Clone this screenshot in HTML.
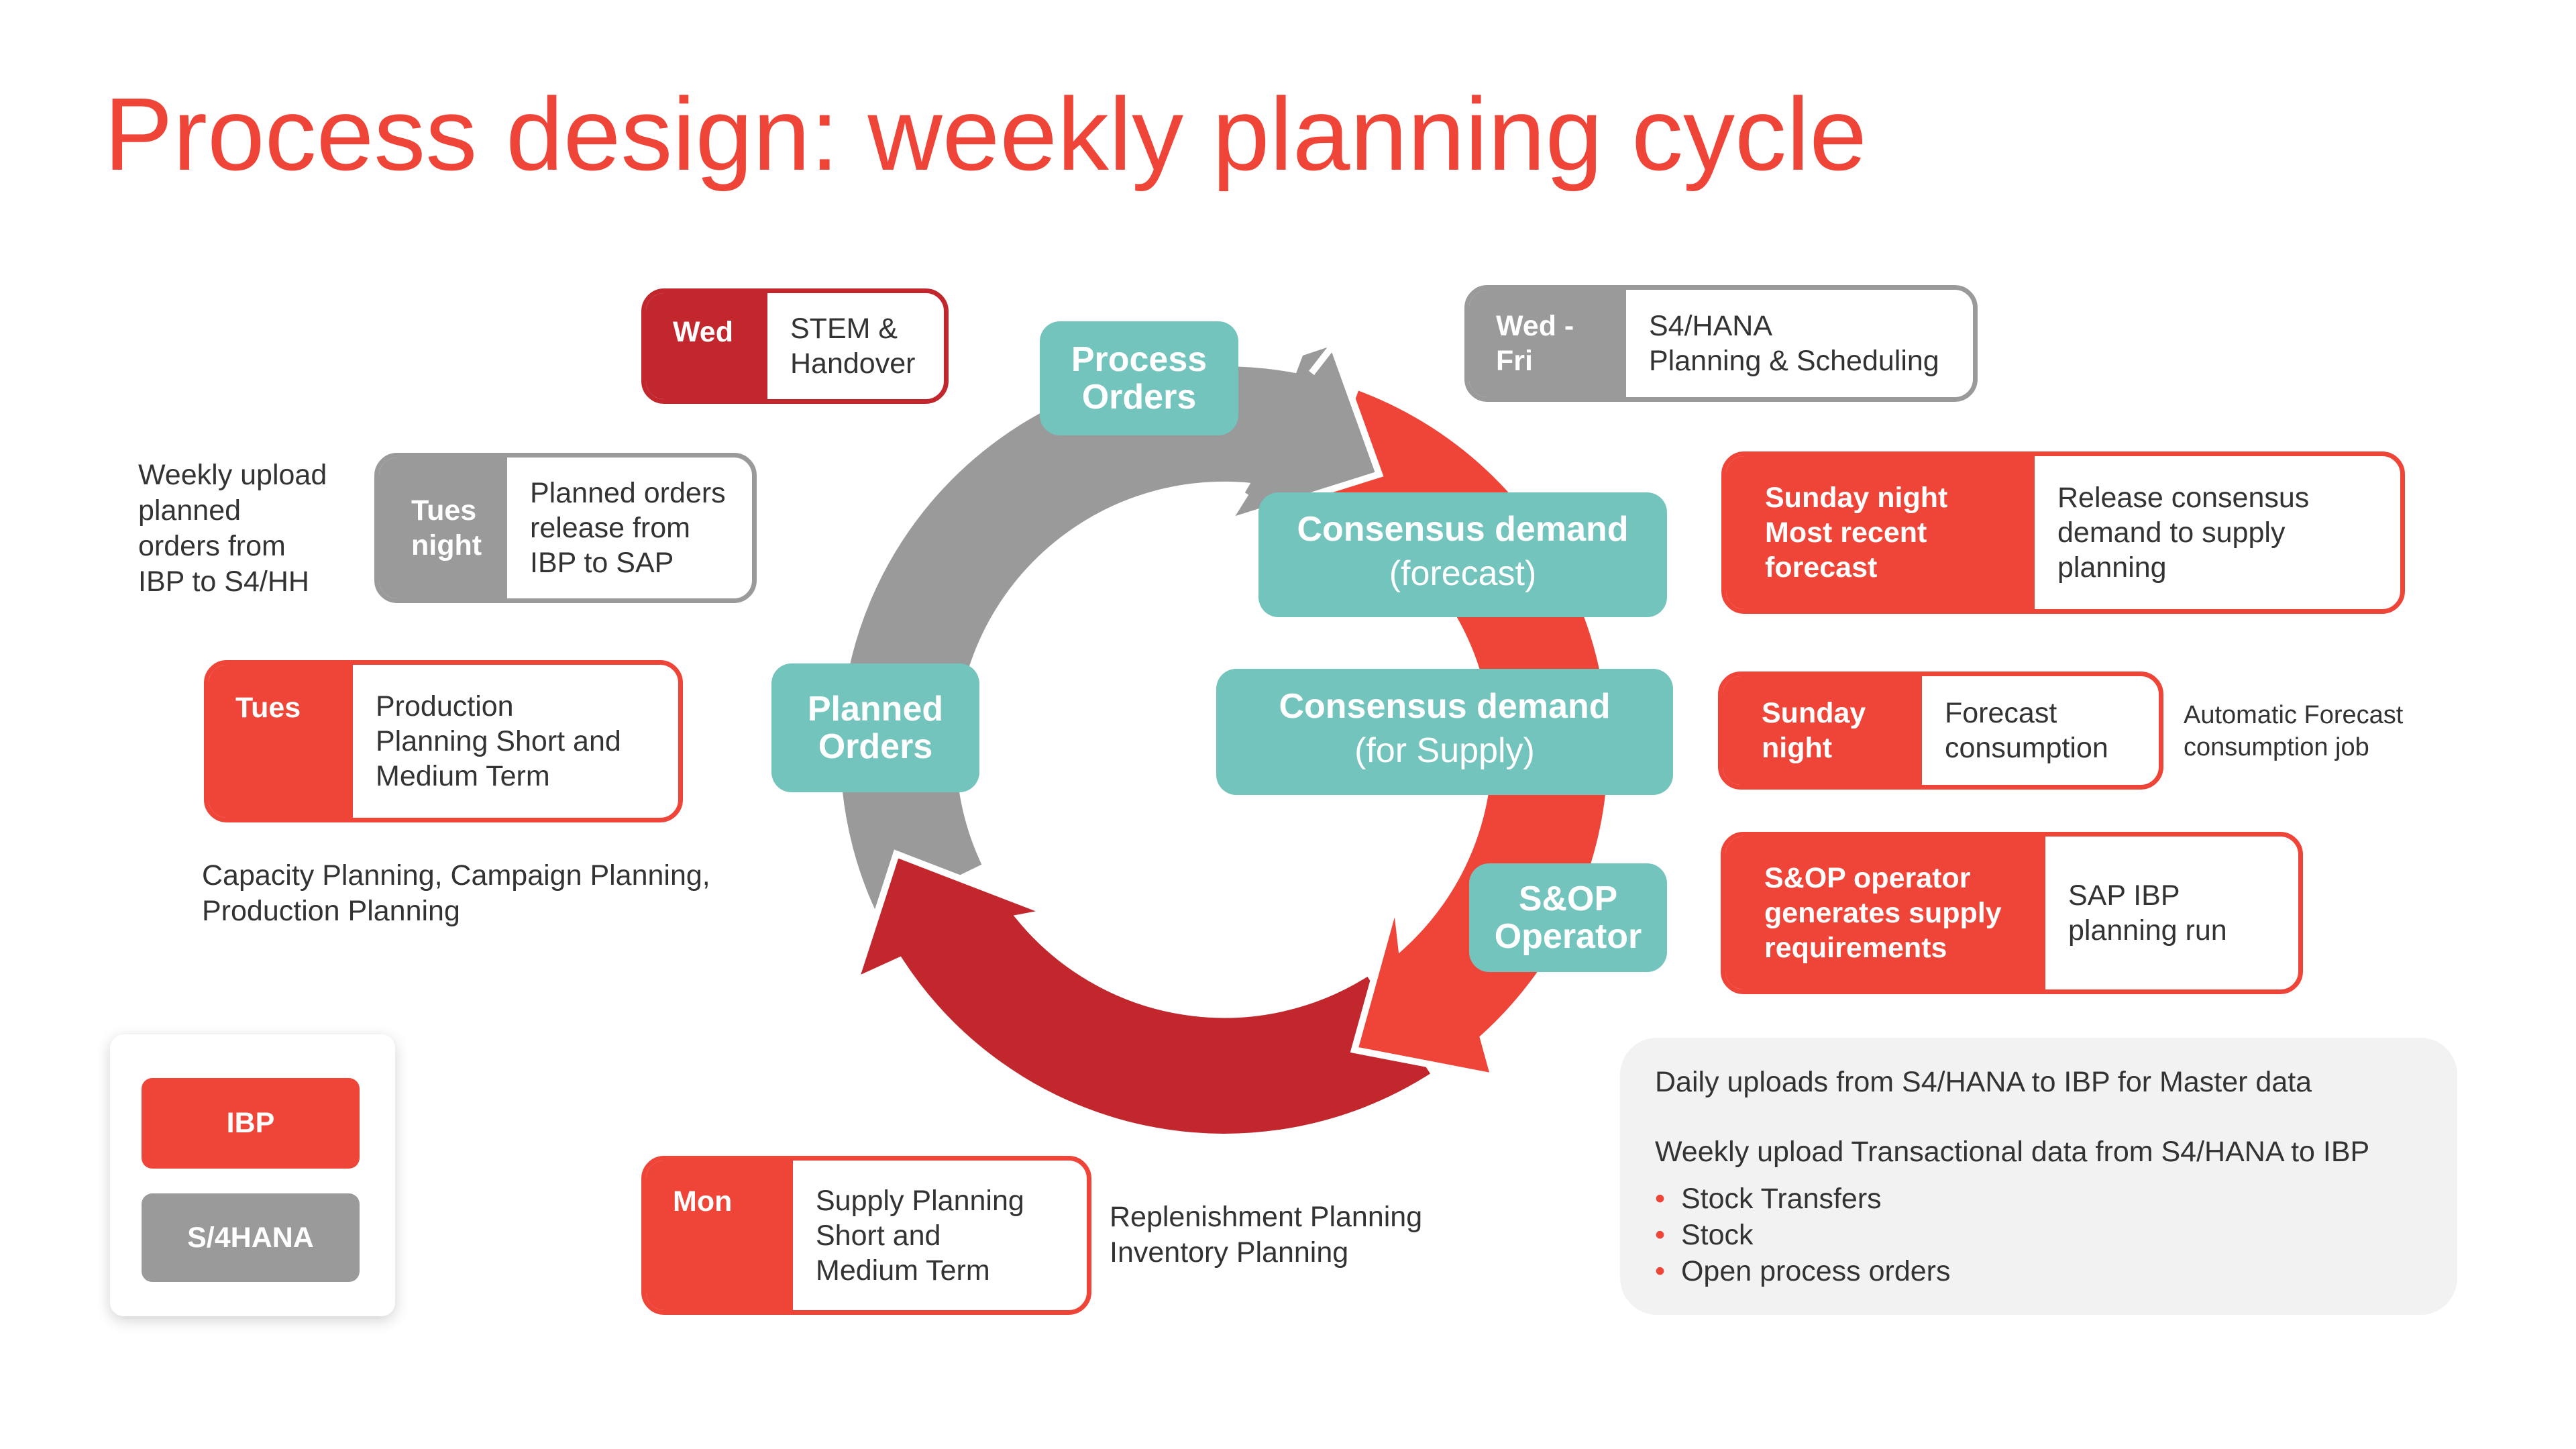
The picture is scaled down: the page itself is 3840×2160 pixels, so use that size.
<!DOCTYPE html>
<html><head><meta charset="utf-8"><style>
body{margin:0;width:3840px;height:2160px;background:#fff;position:relative;overflow:hidden;font-family:"Liberation Sans",sans-serif;color:#333}
.a{position:absolute}
.box{position:absolute;box-sizing:border-box;border:7px solid #ef4438;border-radius:34px;overflow:hidden;display:flex;background:#fff}
.box .l{height:100%;box-sizing:border-box;color:#fff;font-weight:bold;font-size:43px;line-height:52px;padding:0 0 0 40px;display:flex;flex-direction:column}
.box .r{flex:1;display:flex;align-items:center;padding-left:34px;font-size:43px;line-height:52px;color:#333}
.red{border-color:#ef4438}.red .l{background:#ef4438}
.dk{border-color:#c1272d}.dk .l{background:#c1272d}
.gr{border-color:#9a9a9a}.gr .l{background:#9a9a9a}
.c{justify-content:center}
.teal{position:absolute;background:#72c4bc;border-radius:30px;color:#fff;font-weight:bold;font-size:52px;line-height:56px;text-align:center;display:flex;flex-direction:column;justify-content:center}
.teal .n{font-weight:normal;line-height:76px}
.txt{position:absolute;font-size:43px;line-height:53px;color:#333}
</style></head><body>
<div class="a" style="left:155px;top:112px;font-size:154px;color:#ef4438;white-space:nowrap">Process design: weekly planning cycle</div>

<svg class="a" style="left:0;top:0" width="3840" height="2160">
<g transform="translate(-18,0)">
<path d="M1324,1371 A577,577 0 0 1 1973,556 L2005,515 L2074,707 L1848,778 L1932,733 A395,395 0 0 0 1488,1291 Z" fill="#9a9a9a" stroke="#fff" stroke-width="10"/>
<path d="M2157,1602 A577,577 0 0 1 1359,1432 L1293,1462 L1354,1273 L1580,1360 L1538,1368 A395,395 0 0 0 2058,1449 Z" fill="#c1272d" stroke="#fff" stroke-width="10"/>
<path d="M2040,576 A577,577 0 0 1 2229,1547 L2245,1605 L2037,1565 L2099,1341 L2107,1411 A395,395 0 0 0 1978,747 Z" fill="#ef4438" stroke="#fff" stroke-width="10"/>
<polygon points="1960,530 2005,515 2074,707 1848,778 1900,690" fill="#9a9a9a"/>
<polyline points="1973,556 2005,515 2074,707 1848,778 1875,735" fill="none" stroke="#fff" stroke-width="10"/>
</g>
</svg>

<div class="teal" style="left:1550px;top:479px;width:296px;height:170px">Process<br>Orders</div>
<div class="teal" style="left:1876px;top:734px;width:609px;height:186px">Consensus demand<span class="n">(forecast)</span></div>
<div class="teal" style="left:1813px;top:997px;width:681px;height:188px">Consensus demand<span class="n">(for Supply)</span></div>
<div class="teal" style="left:1150px;top:989px;width:310px;height:192px">Planned<br>Orders</div>
<div class="teal" style="left:2190px;top:1287px;width:295px;height:162px">S&amp;OP<br>Operator</div>

<div class="box dk" style="left:956px;top:430px;width:458px;height:172px"><div class="l" style="width:181px;padding-top:32px">Wed</div><div class="r">STEM &amp;<br>Handover</div></div>
<div class="box gr" style="left:2183px;top:425px;width:765px;height:174px"><div class="l c" style="width:234px">Wed -<br>Fri</div><div class="r">S4/HANA<br>Planning &amp; Scheduling</div></div>
<div class="box gr" style="left:558px;top:675px;width:570px;height:224px"><div class="l c" style="width:191px;padding-left:48px">Tues<br>night</div><div class="r">Planned orders<br>release from<br>IBP to SAP</div></div>
<div class="box red" style="left:304px;top:984px;width:714px;height:242px"><div class="l" style="width:215px;padding-top:38px">Tues</div><div class="r">Production<br>Planning Short and<br>Medium Term</div></div>
<div class="box red" style="left:2566px;top:673px;width:1019px;height:242px"><div class="l c" style="width:460px;padding-left:58px">Sunday night<br>Most recent<br>forecast</div><div class="r">Release consensus<br>demand to supply<br>planning</div></div>
<div class="box red" style="left:2561px;top:1001px;width:664px;height:176px"><div class="l c" style="width:297px;padding-left:58px">Sunday<br>night</div><div class="r">Forecast<br>consumption</div></div>
<div class="box red" style="left:2565px;top:1240px;width:868px;height:242px"><div class="l c" style="width:477px;padding-left:58px">S&amp;OP operator<br>generates supply<br>requirements</div><div class="r">SAP IBP<br>planning run</div></div>
<div class="box red" style="left:956px;top:1723px;width:671px;height:237px"><div class="l" style="width:219px;padding-top:35px">Mon</div><div class="r">Supply Planning<br>Short and<br>Medium Term</div></div>

<div class="txt" style="left:206px;top:682px">Weekly upload<br>planned<br>orders from<br>IBP to S4/HH</div>
<div class="txt" style="left:301px;top:1279px">Capacity Planning, Campaign Planning,<br>Production Planning</div>
<div class="txt" style="left:3255px;top:1042px;font-size:38px;line-height:48px">Automatic Forecast<br>consumption job</div>
<div class="txt" style="left:1654px;top:1788px">Replenishment Planning<br>Inventory Planning</div>

<div class="a" style="left:164px;top:1542px;width:425px;height:420px;background:#fff;border-radius:20px;box-shadow:0 6px 22px rgba(0,0,0,0.18)"></div>
<div class="a" style="left:211px;top:1607px;width:325px;height:135px;background:#ef4438;border-radius:16px;color:#fff;font-weight:bold;font-size:43px;display:flex;align-items:center;justify-content:center">IBP</div>
<div class="a" style="left:211px;top:1779px;width:325px;height:132px;background:#9a9a9a;border-radius:16px;color:#fff;font-weight:bold;font-size:43px;display:flex;align-items:center;justify-content:center">S/4HANA</div>

<div class="a" style="left:2415px;top:1547px;width:1248px;height:413px;background:#f2f2f2;border-radius:55px"></div>
<div class="txt" style="left:2467px;top:1587px">Daily uploads from S4/HANA to IBP for Master data</div>
<div class="txt" style="left:2467px;top:1691px">Weekly upload Transactional data from S4/HANA to IBP</div>
<div class="txt" style="left:2467px;top:1760px;line-height:54px"><span style="color:#ef4438">•</span>&nbsp; Stock Transfers<br><span style="color:#ef4438">•</span>&nbsp; Stock<br><span style="color:#ef4438">•</span>&nbsp; Open process orders</div>
</body></html>
